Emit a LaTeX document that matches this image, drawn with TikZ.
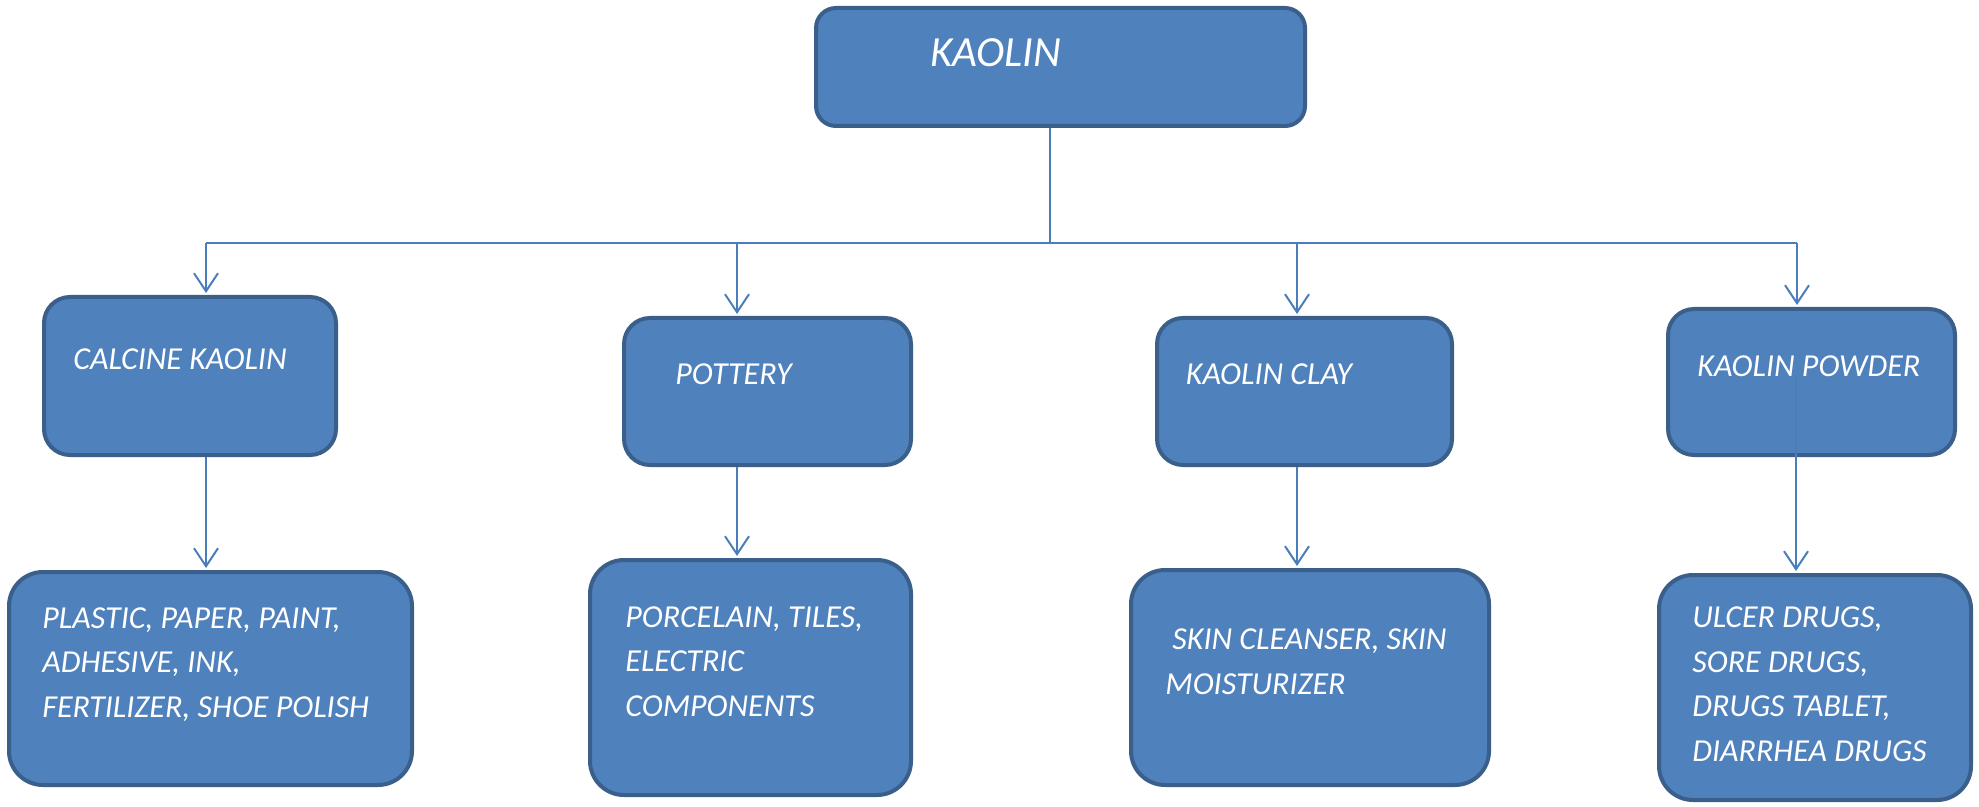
\documentclass[tikz,border=0pt]{standalone}
\usepackage{fontspec}
\setmainfont{Carlito}
\usetikzlibrary{arrows.meta}
\definecolor{boxfill}{HTML}{4F81BD}
\definecolor{boxdraw}{HTML}{3A5F8B}
\definecolor{linec}{HTML}{4A7EBB}
\tikzset{
  box/.style={rectangle, draw=boxdraw, fill=boxfill, line width=2pt, inner sep=0pt},
  boxs/.style={box, rounded corners=13pt},
  boxl/.style={box, rounded corners=17pt},
  lbl/.style={anchor=base west, inner sep=0pt, text=white, align=left,
    font={\fontsize{16pt}{22.2pt}\selectfont\itshape}},
  conn/.style={draw=linec, line width=1pt},
  arr/.style={conn, -{Straight Barb[length=9pt, width=12pt, line width=1pt]}, shorten >=1pt}
}
\begin{document}
\begin{tikzpicture}[x=0.5pt, y=-0.5pt]
\useasboundingbox (0,0) rectangle (1979,807);
% boxes
\node[box, rounded corners=10pt, minimum width=244.5pt, minimum height=59pt] (top) at (1060.5,67) {};
\node[boxs, minimum width=146pt, minimum height=79pt] (b1) at (190,376) {};
\node[boxs, minimum width=143.5pt, minimum height=73.5pt] (b2) at (767.5,391.5) {};
\node[boxs, minimum width=147.5pt, minimum height=73.5pt] (b3) at (1304.5,391.5) {};
\node[boxs, minimum width=143.5pt, minimum height=73pt] (b4) at (1811.5,382) {};
\node[boxl, minimum width=201.5pt, minimum height=106.5pt] (c1) at (210.5,678.5) {};
\node[boxl, minimum width=160.5pt, minimum height=117.5pt] (c2) at (750.5,677.5) {};
\node[boxl, minimum width=179pt, minimum height=107.5pt] (c3) at (1310,677.5) {};
\node[boxl, minimum width=156pt, minimum height=112.5pt] (c4) at (1815,687.5) {};
% texts
\node[lbl, font={\fontsize{21.5pt}{26pt}\selectfont\itshape}] (t0) at (930,67) {KAOLIN};
\node[lbl] (t1) at (73,370) {CALCINE KAOLIN};
\node[lbl] (t2) at (675,385) {POTTERY};
\node[lbl] (t3) at (1185.5,385) {KAOLIN CLAY};
\node[lbl] (t4) at (1697,377) {KAOLIN POWDER};
\node[lbl] (u1) at (42,717) {PLASTIC, PAPER, PAINT,\\ADHESIVE, INK,\\FERTILIZER, SHOE POLISH};
\node[lbl] (u2) at (625,716) {PORCELAIN, TILES,\\ELECTRIC\\COMPONENTS};
\node[lbl] (u3) at (1165,694) {\hspace*{3.5pt}SKIN CLEANSER, SKIN\\MOISTURIZER};
\node[lbl] (u4) at (1692,761) {ULCER DRUGS,\\SORE DRUGS,\\DRUGS TABLET,\\DIARRHEA DRUGS};
% connectors
\coordinate (hub) at (1050,243);
\coordinate (j1) at (206,243);
\coordinate (j2) at (737,243);
\coordinate (j3) at (1297,243);
\coordinate (j4) at (1797,243);
\coordinate (s4) at (1796,377);
\draw[conn] (top.south -| hub) -- (hub);
\draw[conn] (j1) -- (j4);
\draw[arr] (j1) -- (j1 |- b1.north);
\draw[arr] (j2) -- (j2 |- b2.north);
\draw[arr] (j3) -- (j3 |- b3.north);
\draw[arr] (j4) -- (j4 |- b4.north);
\draw[arr] (b1.south -| j1) -- (c1.north -| j1);
\draw[arr] (b2.south -| j2) -- (c2.north -| j2);
\draw[arr] (b3.south -| j3) -- (c3.north -| j3);
\draw[arr] (s4) -- (s4 |- c4.north);
\end{tikzpicture}
\end{document}
